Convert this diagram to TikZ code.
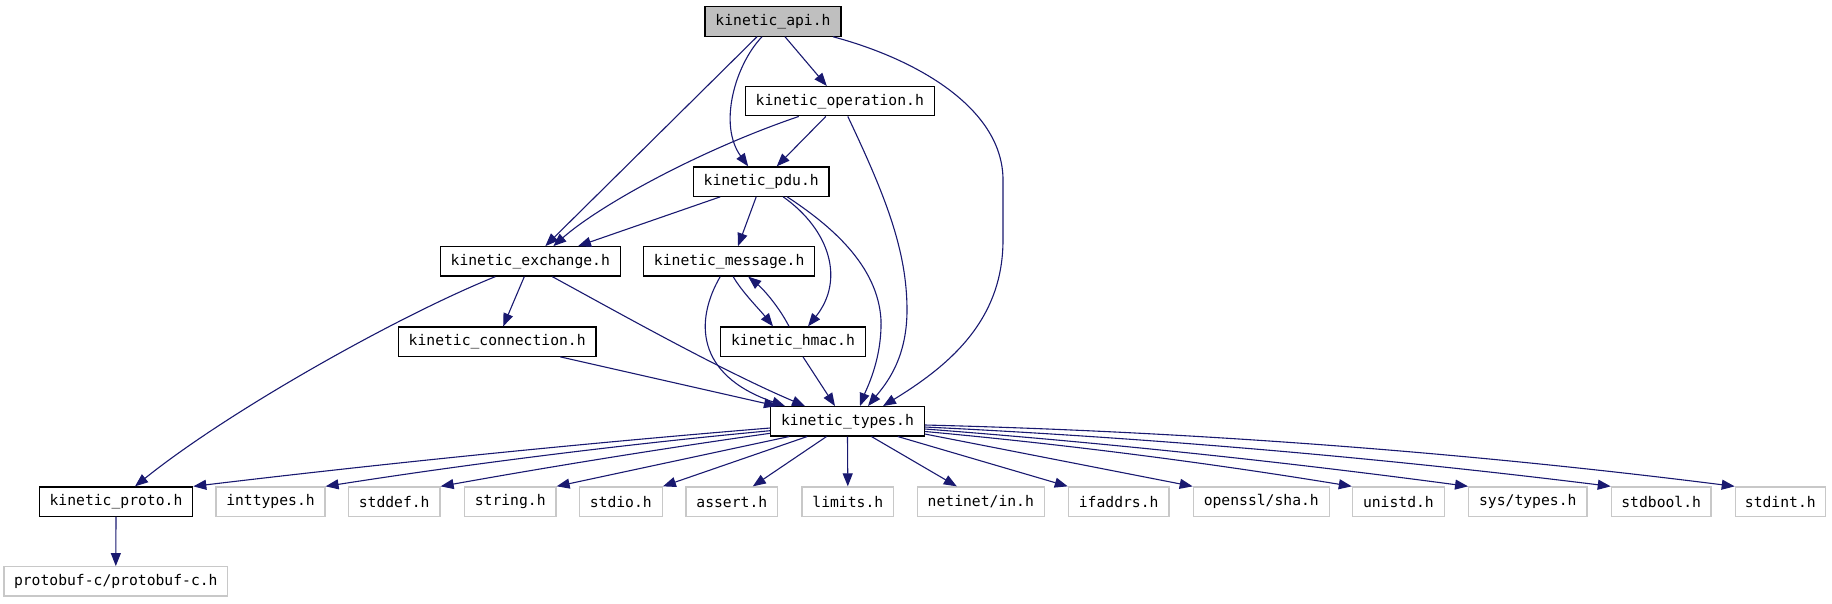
\documentclass[tikz,border=0pt]{standalone}
\usepackage{fontspec}
\setmonofont{DejaVu Sans Mono}
\usetikzlibrary{arrows.meta}
\definecolor{edgeblue}{HTML}{191970}
\definecolor{extgray}{HTML}{C8C8C8}
\definecolor{apifill}{HTML}{BFBFBF}
\tikzset{
  box/.style={draw=black, line width=1.2pt, fill=white, minimum height=29.3pt, inner sep=0pt,
    font=\ttfamily\fontsize{14.7}{17}\selectfont},
  extbox/.style={box, draw=extgray},
  apibox/.style={box, fill=apifill},
  edge/.style={draw=edgeblue, line width=1.1pt, -{Triangle[length=13pt,width=10pt]}}
}
\begin{document}
\begin{tikzpicture}[x=1pt,y=-1pt]
\useasboundingbox (0,0) rectangle (1832,603);
% nodes
\node[apibox, minimum width=136pt] (api) at (773,21.5) {kinetic\_api.h};
\node[box, minimum width=189pt] (operation) at (839.8,101.2) {kinetic\_operation.h};
\node[box, minimum width=135.7pt] (pdu) at (761.2,181.6) {kinetic\_pdu.h};
\node[box, minimum width=180pt] (exchange) at (530.3,261.4) {kinetic\_exchange.h};
\node[box, minimum width=171pt] (message) at (729.2,261.4) {kinetic\_message.h};
\node[box, minimum width=197.7pt] (connection) at (497.2,341.6) {kinetic\_connection.h};
\node[box, minimum width=144.6pt] (hmac) at (793,341.6) {kinetic\_hmac.h};
\node[box, minimum width=153.5pt] (types) at (847.5,421.3) {kinetic\_types.h};
\node[box, minimum width=153.4pt] (proto) at (116,501.6) {kinetic\_proto.h};
\node[extbox, minimum width=223.7pt] (protobuf) at (115.8,581.3) {protobuf-c/protobuf-c.h};
\node[extbox, minimum width=109pt] (inttypes) at (270.5,501.6) {inttypes.h};
\node[extbox, minimum width=91.7pt] (stddef) at (394.2,501.6) {stddef.h};
\node[extbox, minimum width=91.7pt] (string) at (510.2,501.6) {string.h};
\node[extbox, minimum width=83pt] (stdio) at (620.8,501.6) {stdio.h};
\node[extbox, minimum width=91.7pt] (assert) at (731.8,501.6) {assert.h};
\node[extbox, minimum width=91.7pt] (limits) at (847.8,501.6) {limits.h};
\node[extbox, minimum width=127pt] (netinet) at (980.8,501.6) {netinet/in.h};
\node[extbox, minimum width=100.7pt] (ifaddrs) at (1118.7,501.6) {ifaddrs.h};
\node[extbox, minimum width=136pt] (openssl) at (1261.3,501.6) {openssl/sha.h};
\node[extbox, minimum width=92pt] (unistd) at (1398.4,501.6) {unistd.h};
\node[extbox, minimum width=118.3pt] (systypes) at (1527.8,501.6) {sys/types.h};
\node[extbox, minimum width=99.7pt] (stdbool) at (1661.2,501.6) {stdbool.h};
\node[extbox, minimum width=90pt] (stdint) at (1780.3,501.6) {stdint.h};
% edges from api
\draw[edge] ([xshift=-16pt]api.south) -- ([xshift=15pt]exchange.north);
\draw[edge] ([xshift=-11pt]api.south) .. controls (735,65) and (718,125) .. ([xshift=-13pt]pdu.north);
\draw[edge] ([xshift=12pt]api.south) -- ([xshift=-13pt]operation.north);
\draw[edge] ([xshift=60pt]api.south) .. controls (920,60) and (1003,110) .. (1003,180) -- (1003,240) .. controls (1003,320) and (950,365) .. ([xshift=35.5pt]types.north);
% edges from operation
\draw[edge] ([xshift=-14pt]operation.south) -- ([xshift=15.5pt]pdu.north);
\draw[edge] ([xshift=-41pt]operation.south) .. controls (700,150) and (600,205) .. ([xshift=23pt]exchange.north);
\draw[edge] ([xshift=8pt]operation.south) .. controls (885,195) and (907,250) .. (907,310) .. controls (907,360) and (885,385) .. ([xshift=20.5pt]types.north);
% edges from pdu
\draw[edge] ([xshift=-41pt]pdu.south) -- ([xshift=47.7pt]exchange.north);
\draw[edge] ([xshift=-5pt]pdu.south) -- ([xshift=8.8pt]message.north);
\draw[edge] ([xshift=22pt]pdu.south) .. controls (830,230) and (845,280) .. ([xshift=15pt]hmac.north);
\draw[edge] ([xshift=26pt]pdu.south) .. controls (830,225) and (878,265) .. (881,320) .. controls (882,360) and (866,390) .. ([xshift=12.5pt]types.north);
% edges from exchange
\draw[edge] ([xshift=-35pt]exchange.south) .. controls (400,315) and (230,410) .. ([xshift=19pt]proto.north);
\draw[edge] ([xshift=-6pt]exchange.south) -- ([xshift=6pt]connection.north);
\draw[edge] ([xshift=22pt]exchange.south) .. controls (610,308) and (720,370) .. ([xshift=-42.5pt]types.north);
% message / hmac
\draw[edge] ([xshift=4pt]message.south) .. controls (742,292) and (760,310) .. ([xshift=-20pt]hmac.north);
\draw[edge] ([xshift=-4pt]hmac.north) .. controls (778,305) and (762,288) .. ([xshift=19pt]message.south);
\draw[edge] ([xshift=-9pt]message.south) .. controls (695,320) and (695,375) .. ([xshift=-62.5pt]types.north);
\draw[edge] ([xshift=63pt]connection.south) -- ([xshift=-70.5pt]types.north);
\draw[edge] ([xshift=10pt]hmac.south) -- ([xshift=-12.5pt]types.north);
% edges from types
\draw[edge] ([yshift=-6.7pt]types.west) .. controls (580.7,443.5) and (384,463.5) .. (proto.north east);
\draw[edge] ([yshift=-9.4pt]types.west) .. controls (624.3,444.3) and (472.4,463.4) .. (inttypes.north east);
\draw[edge] ([yshift=-12pt]types.west) .. controls (662.2,448.5) and (549.5,466.8) .. (stddef.north east);
\draw[edge] ([xshift=19pt]types.south west) -- (string.north east);
\draw[edge] ([xshift=37pt]types.south west) -- (stdio.north east);
\draw[edge] ([xshift=-21pt]types.south) -- ([xshift=21pt]assert.north);
\draw[edge] (types.south) -- (limits.north);
\draw[edge] ([xshift=24pt]types.south) -- ([xshift=-24pt]netinet.north);
\draw[edge] ([xshift=-27pt]types.south east) -- (ifaddrs.north west);
\draw[edge] ([yshift=-12.7pt]types.east) -- (openssl.north west);
\draw[edge] ([yshift=-10.2pt]types.east) .. controls (1066.9,444.5) and (1209.4,463) .. (unistd.north west);
\draw[edge] ([yshift=-7.7pt]types.east) .. controls (1105.9,442.8) and (1287.4,462.2) .. (systypes.north west);
\draw[edge] ([yshift=-5.7pt]types.east) .. controls (1153.2,438) and (1382.1,458) .. (stdbool.north west);
\draw[edge] ([yshift=-3.7pt]types.east) .. controls (1194.5,431.7) and (1464.8,452.3) .. (stdint.north west);
% proto
\draw[edge] (proto.south) -- (protobuf.north);
\end{tikzpicture}
\end{document}
